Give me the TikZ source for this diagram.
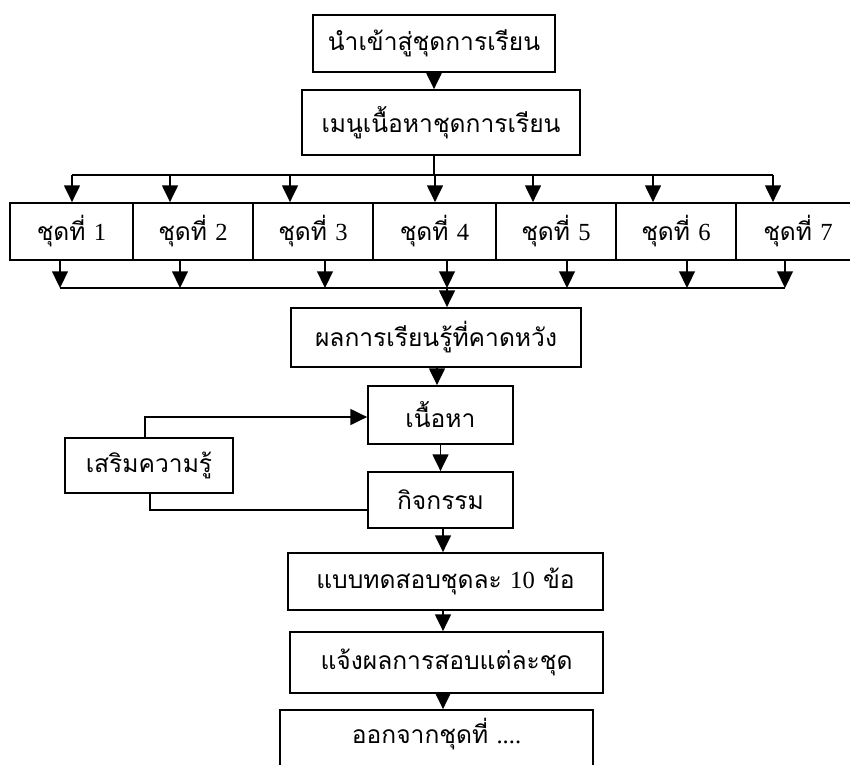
\documentclass[tikz,border=0pt]{standalone}
\usepackage{fontspec}
\newfontfamily\thaifont[Script=Thai]{Loma}
\newfontfamily\numfont{Liberation Serif}
\usepackage{tikz}
\usetikzlibrary{arrows.meta,positioning}

\begin{document}
\begin{tikzpicture}[
  box/.style={rectangle,draw=black,line width=1pt,inner sep=2pt,
              font=\thaifont\fontsize{14}{16}\selectfont},
  cell/.style={box,minimum height=1.14cm},
  flow/.style={-{Triangle[width=9pt,length=9.5pt]},line width=1pt},
  wire/.style={line width=1pt},
]
  \useasboundingbox (0,0) rectangle (17,-15.3);
  \clip (0,0) rectangle (17,-15.3);

  \node[box,minimum width=4.84cm,minimum height=1.14cm](intro) at (8.68,-0.87)
    {นำเข้าสู่ชุดการเรียน};
  \node[box,minimum width=5.56cm,minimum height=1.30cm](menu) at (8.82,-2.45)
    {เมนูเนื้อหาชุดการเรียน};

  \foreach \n/\x/\w in {1/1.43/2.46, 2/3.86/2.40, 3/6.26/2.40, 4/8.69/2.46,
                        5/11.12/2.40, 6/13.52/2.40, 7/15.96/2.48}{%
    \node[cell,minimum width=\w cm](c\n) at (\x,-4.63)
      {ชุดที่ {\numfont\n}};}

  \node[box,minimum width=5.80cm,minimum height=1.18cm](goal) at (8.72,-6.75)
    {ผลการเรียนรู้ที่คาดหวัง};
  \node[box,minimum width=2.90cm,minimum height=1.16cm](content) at (8.81,-8.30)
    {เนื้อหา};
  \node[box,minimum width=2.90cm,minimum height=1.12cm](activity) at (8.81,-10.0)
    {กิจกรรม};
  \node[box,minimum width=3.36cm,minimum height=1.10cm](extra) at (2.98,-9.31)
    {เสริมความรู้};
  \node[box,minimum width=6.30cm,minimum height=1.14cm](test) at (8.91,-11.63)
    {แบบทดสอบชุดละ {\numfont 10} ข้อ};
  \node[box,minimum width=6.26cm,minimum height=1.22cm](result) at (8.93,-13.25)
    {แจ้งผลการสอบแต่ละชุด};
  \node[box,minimum width=6.26cm,minimum height=1.60cm,
        text depth=0.75cm](exit) at (8.73,-15.0)
    {ออกจากชุดที่ {\numfont ....}};

  \coordinate (topL) at (1.44,-3.5);
  \coordinate (topR) at (15.46,-3.5);
  \coordinate (botL) at (1.20,-5.76);
  \coordinate (botR) at (15.70,-5.76);

  \draw[flow] (intro.south) -- (intro.south |- menu.north);
  \draw[wire] (intro.south |- menu.south) -- (intro.south |- topL);
  \draw[wire] (topL) -- (topR);
  \foreach \x [count=\i] in {1.44,3.40,5.80,8.70,10.66,13.06,15.46}{%
    \draw[flow] (\x,0 |- topL) -- (\x,0 |- c\i.north);}
  \foreach \x [count=\i] in {1.20,3.60,6.50,8.94,11.34,13.74,15.70}{%
    \draw[flow] (\x,0 |- c\i.south) -- (\x,0 |- botL);}
  \draw[wire] (botL) -- (botR);
  \draw[flow] (8.94,0 |- botL) -- (8.94,0 |- goal.north);

  \draw[flow] (8.74,0 |- goal.south) -- (8.74,0 |- content.north);
  \draw[flow] (content.south) -- (activity.north);
  \draw[flow] ([xshift=-0.08cm]extra.north) |- ([yshift=-0.04cm]content.west);
  \draw[wire] ([yshift=-0.2cm]activity.west) -| ([xshift=0.02cm]extra.south);

  \draw[flow] (8.86,0 |- activity.south) -- (8.86,0 |- test.north);
  \draw[flow] (8.86,0 |- test.south) -- (8.86,0 |- result.north);
  \draw[flow] (8.86,0 |- result.south) -- (8.86,0 |- exit.north);
\end{tikzpicture}
\end{document}
